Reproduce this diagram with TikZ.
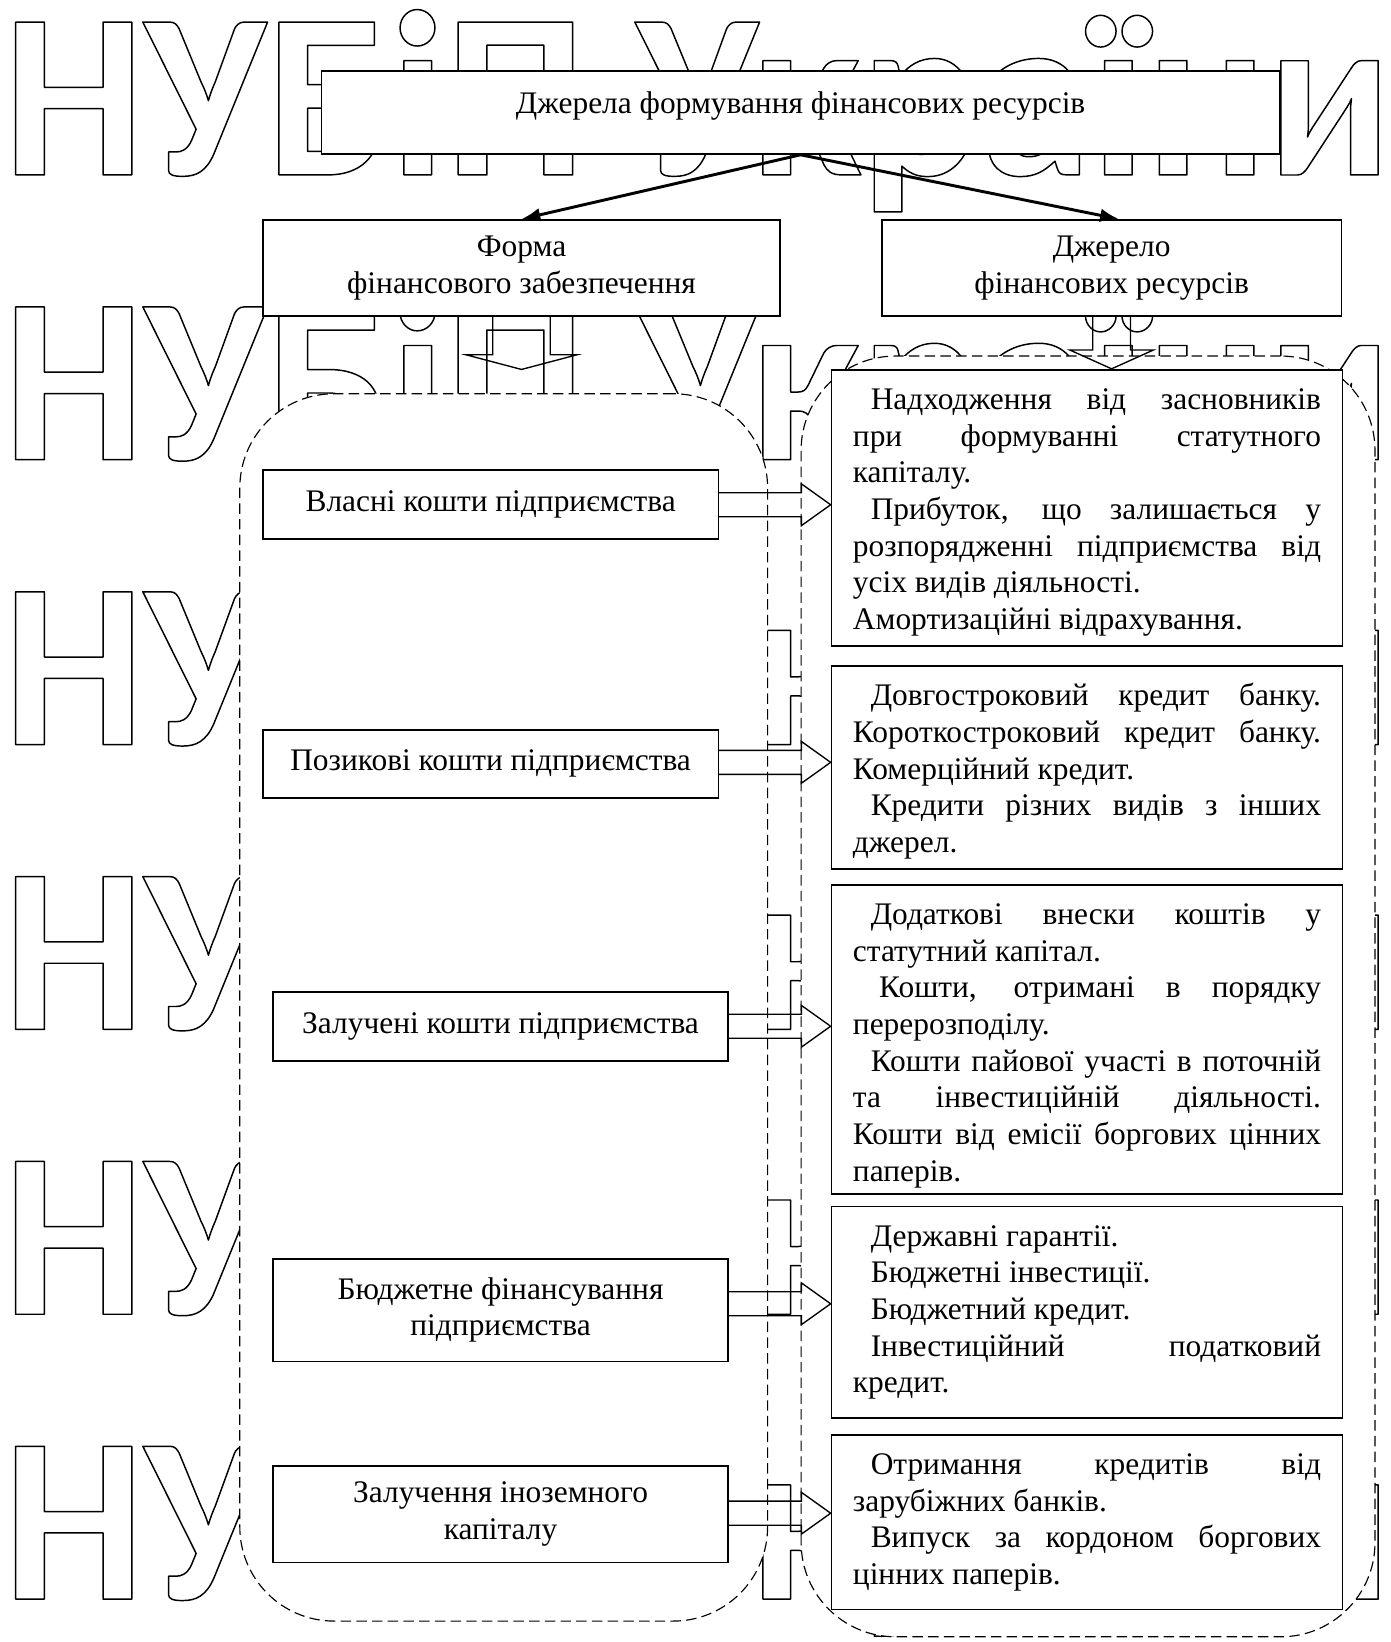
\documentclass[tikz,border=0pt]{standalone}
\usepackage{fontspec}
\setmainfont{Liberation Serif}
\newfontfamily\wmfont{Carlito}[FakeStretch=0.947]
\usetikzlibrary{arrows.meta,calc}

\newcommand\outlinetext[1]{\special{pdf:literal direct 1 Tr 1.4 w 1 j}#1\special{pdf:literal direct 0 Tr}}
\newcommand\Jl[2][0pt]{\hbox to 447pt{\rule[-9pt]{0pt}{33pt}\hspace*{#1}#2}}
\newcommand\Ll[2][0pt]{\hbox to 447pt{\rule[-9pt]{0pt}{33pt}\hspace*{#1}#2\hfil}}
\newcommand\rtext[2]{\vbox to #1{\hsize=447pt\baselineskip=35pt\lineskiplimit=0pt\lineskip=0pt\vskip14pt #2\vfil}}

\newcommand\harrow[4]{%
  \coordinate (#1s) at ($(#2.east)+(0,#4)$);
  \coordinate (#1t) at (#1s -| #3.west);
  \draw[hollow] ($(#1s)+(0,-11.5)$) -- ($(#1t)+(-28,-11.5)$) -- ($(#1t)+(-28,-20)$)
     -- (#1t) -- ($(#1t)+(-28,20)$) -- ($(#1t)+(-28,11.5)$) -- ($(#1s)+(0,11.5)$);
}

\tikzset{
  box/.style={draw, line width=1.6pt, fill=white, inner sep=0pt, font=\fontsize{30}{35}\selectfont},
  region/.style={draw, fill=white, rounded corners=90pt, line width=1.1pt, dash pattern=on 10pt off 5pt, inner sep=0pt},
  hollow/.style={draw, line width=1.3pt, line join=miter},
  link/.style={line width=2.8pt, -{Latex[length=18pt,width=13pt]}},
  wm/.style={anchor=base west, inner sep=0pt, font=\wmfont\bfseries\fontsize{225}{225}\selectfont}
}

\begin{document}
\begin{tikzpicture}[x=1pt,y=-1pt]
\useasboundingbox (0,0) rectangle (1328,1568);

% watermark
\node[wm] (wm1) at (3,167) {\outlinetext{НУБіП України}};
\node[wm] (wm2) at (3,439) {\outlinetext{НУБіП України}};
\node[wm] (wm3) at (3,711) {\outlinetext{НУБіП України}};
\node[wm] (wm4) at (3,983) {\outlinetext{НУБіП України}};
\node[wm] (wm5) at (3,1255) {\outlinetext{НУБіП України}};
\node[wm] (wm6) at (3,1527) {\outlinetext{НУБіП України}};

% dashed regions
\node[region, minimum width=504pt, minimum height=1172pt] (lreg) at (481,962) {};
\node[region, minimum width=548pt, minimum height=1223pt] (rreg) at (1039,951.5) {};

% top boxes
\node[box, minimum width=915pt, minimum height=79pt, text height=21pt, text depth=20pt] (T) at (764.5,107.5) {Джерела формування фінансових ресурсів};
\node[box, align=center, minimum width=494pt, minimum height=92pt] (F) at (498,256) {Форма\\фінансового забезпечення};
\node[box, align=center, minimum width=439pt, minimum height=92pt] (D) at (1061.5,256) {Джерело\\фінансових ресурсів};

% left boxes
\node[box, minimum width=435pt, minimum height=66pt] (l1) at (468.5,482) {Власні кошти підприємства};
\node[box, minimum width=435pt, minimum height=65pt] (l2) at (468.5,729.5) {Позикові кошти підприємства};
\node[box, minimum width=434pt, minimum height=66pt] (l3) at (478,980) {Залучені кошти підприємства};
\node[box, align=center, minimum width=434pt, minimum height=98pt] (l4) at (478,1251) {Бюджетне фінансування\\підприємства};
\node[box, align=center, minimum width=434pt, minimum height=92pt] (l5) at (478,1446) {Залучення іноземного\\капіталу};

% right boxes
\node[box, minimum width=488pt, minimum height=264pt] (r1) at (1038,485) {\rtext{264pt}{%
\Jl[17pt]{Надходження від засновників}
\Jl{при формуванні статутного}
\Ll{капіталу.}
\Jl[17pt]{Прибуток, що залишається у}
\Jl{розпорядженні підприємства від}
\Ll{усіх видів діяльності.}
\Ll{Амортизаційні відрахування.}}};
\node[box, minimum width=488pt, minimum height=194pt] (r2) at (1038,733) {\rtext{194pt}{%
\Jl[17pt]{Довгостроковий кредит банку.}
\Jl{Короткостроковий кредит банку.}
\Ll{Комерційний кредит.}
\Jl[17pt]{Кредити різних видів з інших}
\Ll{джерел.}}};
\node[box, minimum width=488pt, minimum height=295pt] (r3) at (1038,992.5) {\rtext{295pt}{%
\Jl[17pt]{Додаткові внески коштів у}
\Ll{статутний капітал.}
\Jl[25pt]{Кошти, отримані в порядку}
\Ll{перерозподілу.}
\Jl[17pt]{Кошти пайової участі в поточній}
\Jl{та інвестиційній діяльності.}
\Jl{Кошти від емісії боргових цінних}
\Ll{паперів.}}};
\node[box, minimum width=488pt, minimum height=202pt] (r4) at (1038,1253) {\rtext{202pt}{%
\Ll[17pt]{Державні гарантії.}
\Ll[17pt]{Бюджетні інвестиції.}
\Ll[17pt]{Бюджетний кредит.}
\Jl[17pt]{Інвестиційний податковий}
\Ll{кредит.}}};
\node[box, minimum width=488pt, minimum height=167pt] (r5) at (1038,1453.5) {\rtext{167pt}{%
\Jl[17pt]{Отримання кредитів від}
\Ll{зарубіжних банків.}
\Jl[17pt]{Випуск за кордоном боргових}
\Ll{цінних паперів.}}};

% links from top box
\draw[link] (T.south) -- (F.north);
\coordinate (Dn) at ($(D.north)+(7,0)$);
\draw[link] (T.south) -- (Dn);

% hollow down arrows
\coordinate (ftip) at ($(F.south)+(0,50)$);
\draw[hollow] ($(F.south)+(-27.5,0)$) -- ($(ftip)+(-27.5,-14)$) -- ($(ftip)+(-53,-14)$) -- (ftip)
   -- ($(ftip)+(53,-14)$) -- ($(ftip)+(27.5,-14)$) -- ($(F.south)+(27.5,0)$);
\coordinate (dtip) at (D.south |- r1.north);
\draw[hollow] ($(D.south)+(-18,0)$) -- ($(dtip)+(-18,-18)$) -- ($(dtip)+(-40,-18)$) -- (dtip)
   -- ($(dtip)+(40,-18)$) -- ($(dtip)+(18,-18)$) -- ($(D.south)+(18,0)$);

% hollow right arrows
\harrow{a1}{l1}{r1}{0}
\harrow{a2}{l2}{r2}{-1.5}
\harrow{a3}{l3}{r3}{0}
\harrow{a4}{l4}{r4}{-6}
\harrow{a5}{l5}{r5}{-1}
\end{tikzpicture}
\end{document}
